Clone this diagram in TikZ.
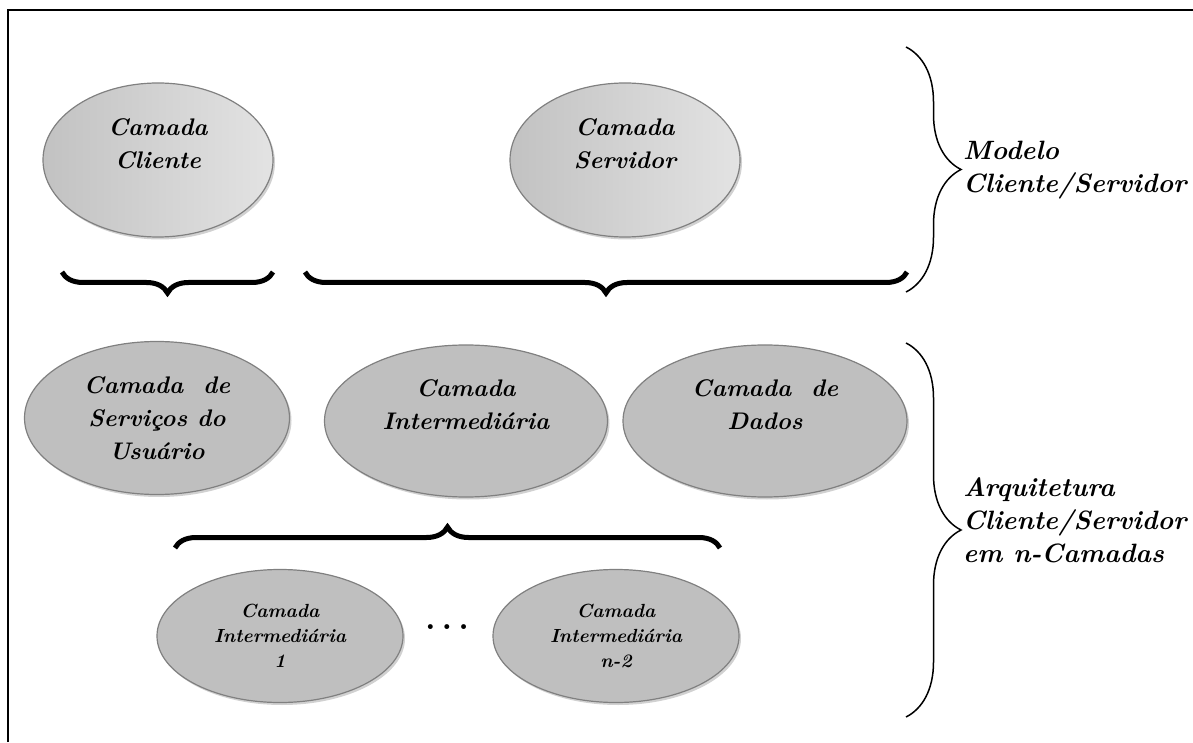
\documentclass[tikz,border=0pt]{standalone}
\usetikzlibrary{shapes.geometric,decorations.pathreplacing,shadows}
\begin{document}
\begin{tikzpicture}[x=1pt,y=1pt,
  camada/.style={ellipse,draw=black!50,line width=1.2pt,inner sep=0pt,align=center,
    font=\fontsize{24}{33}\selectfont\bfseries\itshape,
    drop shadow={shadow xshift=2pt,shadow yshift=-2.5pt,fill=black!18,opacity=1}},
  topo/.style={camada,left color=black!24,right color=black!11,minimum width=230pt,minimum height=154pt},
  meio/.style={camada,fill=black!25},
  baixo/.style={camada,fill=black!25,minimum width=246pt,minimum height=133pt,
    font=\fontsize{19}{25}\selectfont\bfseries\itshape},
  chave/.style={decorate,decoration={brace,amplitude=21pt},line width=5pt},
  chavefina/.style={decorate,decoration={brace,amplitude=55pt},line width=1.5pt},
  rotulo/.style={anchor=west,align=left,inner sep=2pt,font=\fontsize{26.5}{33}\selectfont\bfseries\itshape}]
\useasboundingbox (0,0) rectangle (1193,742);
\draw[line width=2pt] (8,0) |- (1193,732);

\node[topo] (cliente) at (158,582) {Camada\\Cliente\\\mbox{}};
\node[topo] (servidor) at (625,582) {Camada\\Servidor\\\mbox{}};

\node[meio,minimum width=265pt,minimum height=153pt] (usuario) at (157,324) {Camada~ de\\Serviços do\\Usuário};
\node[meio,minimum width=283pt,minimum height=152pt] (inter) at (466,321) {Camada\\Intermediária\\\mbox{}};
\node[meio,minimum width=284pt,minimum height=152pt] (dados) at (765,321) {Camada~ de\\Dados\\\mbox{}};

\node[baixo] (inter1) at (280,106) {Camada\\Intermediária\\1};
\node[baixo] (intern) at (616,106) {Camada\\Intermediária\\n-2};
\node[anchor=base,font=\fontsize{34}{40}\selectfont\bfseries] (pontos) at (447,113) {.\hspace{6pt}.\hspace{6pt}.};

\coordinate (c1) at (273,470);
\coordinate (c2) at (62,470);
\coordinate (s1) at (907,470);
\coordinate (s2) at (305,470);
\coordinate (i1) at (175,194);
\coordinate (i2) at (720,194);
\coordinate (m1) at (906,695);
\coordinate (m2) at (906,450);
\coordinate (a1) at (906,399);
\coordinate (a2) at (906,25);

\draw[chave] (c1) -- (c2);
\draw[chave] (s1) -- (s2);
\draw[chave] (i1) -- (i2);
\draw[chavefina] (m1) -- (m2);
\draw[chavefina] (a1) -- (a2);

\node[rotulo] (modelo) at (961,572) {Modelo\\Cliente/Servidor};
\node[rotulo] (arquitetura) at (961,222) {Arquitetura\\Cliente/Servidor\\em n-Camadas};
\end{tikzpicture}
\end{document}
